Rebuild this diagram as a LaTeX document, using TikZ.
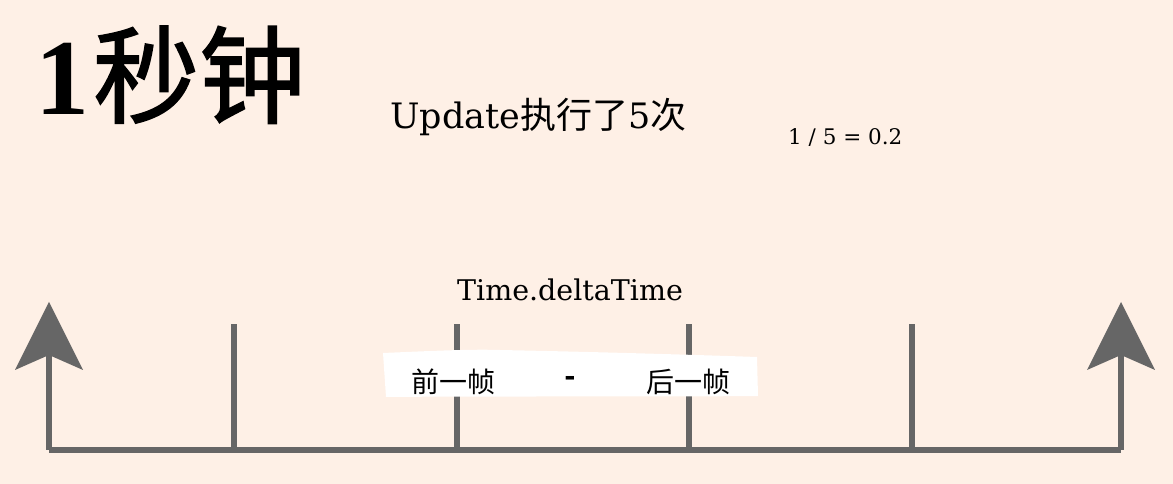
\documentclass[tikz,border=0pt]{standalone}
\usepackage{fontspec}
\setmainfont{DejaVu Serif}
\newfontfamily\cjk{Noto Sans CJK SC}
\newfontfamily\tms{Liberation Serif}
\usetikzlibrary{arrows.meta}
\definecolor{bgc}{HTML}{FEF0E6}
\definecolor{axc}{HTML}{666666}
\tikzset{
  axis/.style={draw=axc, line width=6pt, line join=miter},
  tick/.style={draw=axc, line width=6pt},
  bigtip/.style={-{Stealth[length=68pt,width=68pt,inset=15pt,line width=0pt]}},
  txt/.style={inner sep=0pt, text=black},
}
\begin{document}
\begin{tikzpicture}[x=1pt,y=1pt]
\fill[bgc] (0,0) rectangle (1173,484);
\useasboundingbox (0,0) rectangle (1173,484);
% titles
\node[txt, anchor=base west] (title) at (35,369) {{\tms\bfseries\fontsize{108}{108}\selectfont 1}\hspace{4pt}{\cjk\fontsize{106}{106}\selectfont\addfontfeatures{FakeBold=1.5}秒钟}};
\node[txt, anchor=base west] (upd) at (390,355) {\fontsize{35}{35}\selectfont Update{\cjk\fontsize{36}{36}\selectfont 执行了}5{\cjk\fontsize{36}{36}\selectfont 次}};
\node[txt, anchor=base west] (calc) at (788,339) {\fontsize{21.5}{21.5}\selectfont 1 / 5 = 0.2};
\node[txt, anchor=base] (dt) at (570,183) {\fontsize{28.5}{28.5}\selectfont Time.deltaTime};
% axis
\coordinate (Ltip) at (49,182);
\coordinate (BL) at (49,34);
\coordinate (BR) at (1121,34);
\coordinate (Rtip) at (1121,182);
\draw[axis, bigtip] (BL) -- (Ltip);
\draw[axis, bigtip] (BR) -- (Rtip);
\draw[axis] (BL) -- (BR);
% ticks
\foreach \i/\x in {1/234,2/457,3/689,4/912}{
  \coordinate (t\i b) at (\x,34);
  \coordinate (t\i t) at (\x,160);
  \draw[tick] (t\i b) -- (t\i t);
}
% white label strip
\fill[white] (383,131) .. controls (430,133) and (470,135) .. (500,134)
  .. controls (600,132) and (700,129) .. (757,127)
  -- (758,88) .. controls (650,87) and (500,88) .. (386,87) -- cycle;
\node[txt] (prev) at (453,102) {\cjk\fontsize{28}{28}\selectfont 前一帧};
\node[txt] (minus) at (570,103) {\bfseries\fontsize{27}{27}\selectfont -};
\node[txt] (next) at (688,102) {\cjk\fontsize{28}{28}\selectfont 后一帧};
\end{tikzpicture}
\end{document}
